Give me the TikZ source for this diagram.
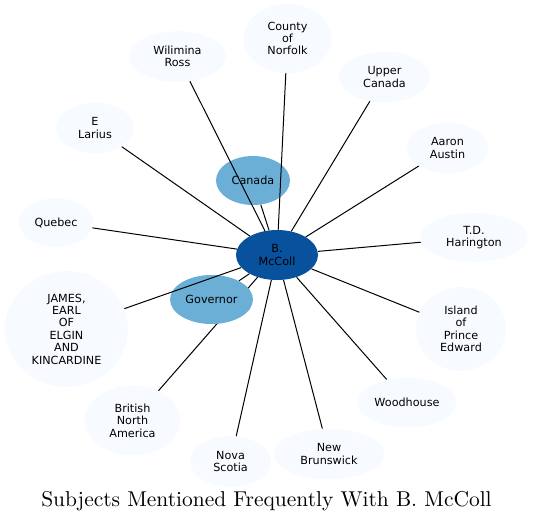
\documentclass[tikz,border=0pt]{standalone}
\usepackage{fontspec}
\newfontfamily\nodefont{DejaVu Sans}
\newfontfamily\titlefont{lmroman10-regular}[Extension=.otf]
\usetikzlibrary{shapes.geometric}
\pgfdeclarelayer{background}
\pgfsetlayers{background,main}
\definecolor{hubblue}{HTML}{08519C}
\definecolor{midblue}{HTML}{6BAED6}
\definecolor{paleblue}{HTML}{F7FBFF}
\tikzset{
  subject/.style={ellipse,inner sep=0pt,align=center,
    font=\nodefont\fontsize{8.4}{9.3}\selectfont},
  link/.style={draw=black,line width=0.75pt}
}

\begin{document}
\begin{tikzpicture}[x=0.75pt,y=-0.75pt]
\useasboundingbox (0,0) rectangle (533,521);
\begin{scope}[every node/.style={subject,fill=hubblue}]
    \node[minimum width=61.5pt,minimum height=37.5pt] (mccoll) at (277,255) {B.\\McColl};
\end{scope}
\begin{scope}[every node/.style={subject,fill=midblue}]
    \node[minimum width=55.5pt,minimum height=36.75pt] (canada) at (253,180.5) {Canada};
    \node[minimum width=62.25pt,minimum height=36.75pt] (governor) at (211.5,299.5) {Governor};
\end{scope}
\begin{scope}[every node/.style={subject,fill=paleblue}]
    \node[minimum width=66pt,minimum height=51.75pt] (norfolk) at (287.5,38.5) {County\\of\\Norfolk};
    \node[minimum width=72.75pt,minimum height=38pt] (ross) at (177.5,56.5) {Wilimina\\Ross};
    \node[minimum width=68.25pt,minimum height=38pt] (upper) at (384.5,77) {Upper\\Canada};
    \node[minimum width=58.2pt,minimum height=38pt] (larius) at (95,128) {E\\Larius};
    \node[minimum width=60.75pt,minimum height=37.5pt] (austin) at (447.5,148) {Aaron\\Austin};
    \node[minimum width=55.5pt,minimum height=36.75pt] (quebec) at (56,222.5) {Quebec};
    \node[minimum width=81pt,minimum height=36.75pt] (harington) at (474,237.5) {T.D.\\Harington};
    \node[minimum width=92.25pt,minimum height=87pt] (elgin) at (66.5,329) {JAMES,\\EARL\\OF\\ELGIN\\AND\\KINCARDINE};
    \node[minimum width=67.5pt,minimum height=63pt] (island) at (461,329) {Island\\of\\Prince\\Edward};
    \node[minimum width=71.4pt,minimum height=52.5pt] (bna) at (132.5,420.5) {British\\North\\America};
    \node[minimum width=74pt,minimum height=37.5pt] (woodhouse) at (407,402.5) {Woodhouse};
    \node[minimum width=60.5pt,minimum height=38pt] (nova) at (230.5,461.5) {Nova\\Scotia};
    \node[minimum width=83pt,minimum height=38pt] (brunswick) at (329,454) {New\\Brunswick};
\end{scope}
\begin{pgfonlayer}{background}
    \path [link] (mccoll) -- (bna);
\end{pgfonlayer}
\begin{scope}[every edge/.style={link}]
    \path (mccoll) edge (canada);
    \path (mccoll) edge (governor);
    \path (mccoll) edge (norfolk);
    \path (mccoll) edge (ross);
    \path (mccoll) edge (upper);
    \path (mccoll) edge (larius);
    \path (mccoll) edge (austin);
    \path (mccoll) edge (quebec);
    \path (mccoll) edge (harington);
    \path (mccoll) edge (elgin);
    \path (mccoll) edge (island);
    \path (mccoll) edge (woodhouse);
    \path (mccoll) edge (nova);
    \path (mccoll) edge (brunswick);
\end{scope}
\node[anchor=base,font=\titlefont\fontsize{16.1}{18}\selectfont] (title) at (266.5,506) {Subjects Mentioned Frequently With B. McColl};
\end{tikzpicture}
\end{document}
